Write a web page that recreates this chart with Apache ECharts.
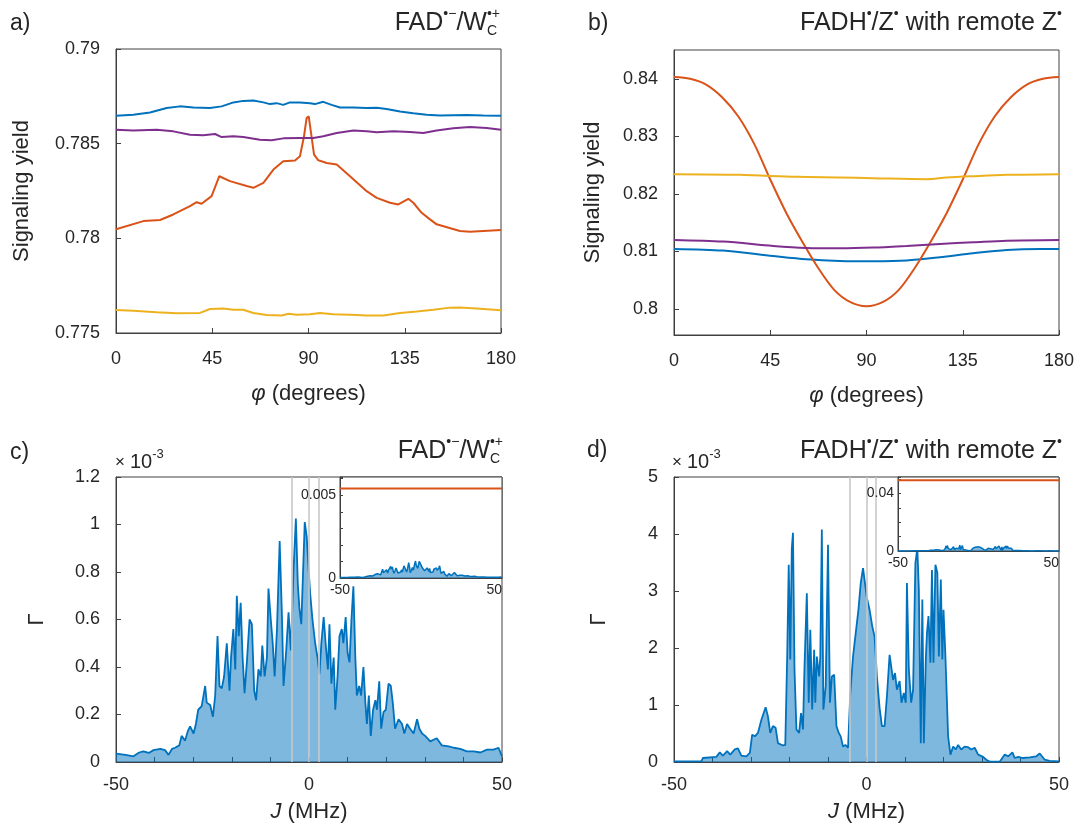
<!DOCTYPE html>
<html><head><meta charset="utf-8">
<script src="https://cdn.jsdelivr.net/npm/echarts@6/dist/echarts.min.js"></script>
<style>html,body{margin:0;padding:0;background:#fff}#c{width:1074px;height:828px}</style>
</head><body><div id="c"></div>
<script>
// ---------------- DATA ----------------
const phiTicks = [0, 45, 90, 135, 180];
// panel a: FAD/W  (phi in degrees, signaling yield)
const aBlue = [[0,0.78647],[8.1,0.78653],[15.9,0.78665],[23.7,0.78688],[29.9,0.78697],[36.2,0.78691],[43.9,0.78688],[49.4,0.78697],[54.9,0.78718],[59.5,0.78726],[64.2,0.78728],[68.9,0.78718],[72.0,0.78709],[75.1,0.78714],[78.2,0.78705],[81.3,0.78718],[86.0,0.78718],[90.7,0.78714],[93.0,0.78709],[96.9,0.78721],[100.8,0.78705],[104.7,0.78691],[111.0,0.78691],[117.2,0.78688],[121.9,0.78690],[126.5,0.78683],[132.8,0.78670],[139.0,0.78661],[145.2,0.78653],[151.5,0.78649],[163.9,0.78651],[171.7,0.78649],[180,0.78647]];
const aOrange = [[0,0.78048],[12.8,0.78091],[20.6,0.78097],[26.8,0.78126],[34.6,0.78170],[37.7,0.78191],[40.0,0.78183],[44.7,0.78223],[48.3,0.78328],[53.3,0.78302],[61.1,0.78276],[64.2,0.78267],[68.9,0.78293],[73.6,0.78363],[78.2,0.78407],[83.7,0.78411],[86.0,0.78433],[87.9,0.78539],[89.1,0.78635],[90.1,0.78644],[91.2,0.78556],[92.6,0.78442],[94.6,0.78412],[98.5,0.78398],[103.2,0.78390],[109.4,0.78328],[117.2,0.78249],[121.9,0.78214],[128.1,0.78188],[132.0,0.78179],[136.7,0.78209],[139.0,0.78188],[142.9,0.78135],[146.8,0.78100],[149.9,0.78074],[160.8,0.78039],[165.5,0.78035],[180,0.78044]];
const aYellow = [[0,0.77621],[8.1,0.77618],[19.0,0.77609],[28.4,0.77604],[39.3,0.77606],[43.9,0.77627],[50.2,0.77630],[54.9,0.77623],[59.5,0.77623],[64.2,0.77606],[70.4,0.77595],[77.5,0.77592],[80.6,0.77602],[84.5,0.77597],[90.7,0.77599],[95.4,0.77606],[101.6,0.77599],[109.4,0.77597],[117.2,0.77592],[125.0,0.77593],[132.8,0.77606],[140.6,0.77614],[148.4,0.77623],[156.1,0.77634],[160.8,0.77635],[168.6,0.77630],[180,0.77620]];
const aPurple = [[0,0.78574],[8.1,0.78570],[19.0,0.78574],[26.8,0.78565],[34.6,0.78547],[40.8,0.78544],[46.3,0.78551],[49.4,0.78535],[54.9,0.78539],[59.5,0.78535],[67.3,0.78521],[72.8,0.78518],[78.2,0.78528],[86.0,0.78530],[92.3,0.78530],[96.9,0.78539],[103.2,0.78556],[111.0,0.78570],[117.2,0.78565],[121.9,0.78560],[129.7,0.78565],[137.4,0.78561],[143.7,0.78556],[149.9,0.78570],[157.7,0.78581],[165.5,0.78588],[173.3,0.78583],[180,0.78574]];
// panel b: FADH/Z with remote Z
const bBlue = [[0,0.81045],[22.9,0.81016],[46.3,0.80923],[61.9,0.80866],[77.5,0.80837],[93.1,0.80831],[108.7,0.80843],[124.3,0.80900],[139.9,0.80970],[155.5,0.81027],[171.1,0.81045],[180,0.81045]];
const bOrange = [[0,0.8403],[7.5,0.8400],[15,0.8390],[22.5,0.8368],[30,0.8335],[37.5,0.8287],[45,0.8225],[52.5,0.8167],[60,0.8117],[67.5,0.8071],[75,0.8033],[82.5,0.8012],[90,0.8005],[97.5,0.8012],[105,0.8033],[112.5,0.8071],[120,0.8117],[127.5,0.8167],[135,0.8225],[142.5,0.8287],[150,0.8335],[157.5,0.8368],[165,0.8390],[172.5,0.8400],[180,0.8403]];
const bYellow = [[0,0.82343],[30.7,0.82332],[57.2,0.82297],[77.5,0.82286],[93.1,0.82274],[118.1,0.82257],[127.4,0.82286],[139.9,0.82309],[155.5,0.82332],[180,0.82343]];
const bPurple = [[0,0.81201],[22.9,0.81172],[46.3,0.81097],[61.9,0.81062],[77.5,0.81056],[93.1,0.81068],[108.7,0.81097],[124.3,0.81131],[139.9,0.81160],[155.5,0.81189],[180,0.81201]];
const bYTicks = [0.80, 0.81, 0.82, 0.83, 0.84];
// panel c: Gamma spectrum, FAD/W (units of 1e-3), J in MHz
const cSpec = [[-50,0.035],[-47.5,0.03],[-45.5,0.024],[-44,0.04],[-42.9,0.045],[-41.5,0.038],[-40.3,0.05],[-38.5,0.055],[-37.3,0.05],[-36.4,0.03],[-35.5,0.055],[-34.7,0.06],[-33.6,0.07],[-33.0,0.11],[-32.1,0.09],[-31.4,0.13],[-30.8,0.15],[-29.9,0.12],[-29.3,0.16],[-28.7,0.22],[-27.8,0.235],[-26.9,0.32],[-26.5,0.25],[-25.6,0.24],[-24.9,0.19],[-24.3,0.28],[-23.7,0.53],[-23.2,0.32],[-22.6,0.31],[-22.0,0.36],[-21.3,0.50],[-20.6,0.30],[-20.2,0.44],[-19.6,0.56],[-19.1,0.39],[-18.7,0.70],[-18.2,0.53],[-17.7,0.67],[-17.2,0.44],[-16.7,0.29],[-16.1,0.42],[-15.4,0.60],[-14.8,0.58],[-14.2,0.30],[-13.7,0.26],[-13.1,0.39],[-12.5,0.36],[-12.1,0.49],[-11.5,0.36],[-10.9,0.44],[-10.5,0.73],[-9.9,0.60],[-9.4,0.50],[-8.9,0.36],[-8.3,0.56],[-7.6,0.93],[-7.0,0.61],[-6.6,0.32],[-5.9,0.47],[-5.3,0.63],[-4.7,0.47],[-4.0,0.81],[-3.4,1.025],[-2.9,0.75],[-2.5,0.65],[-2.0,0.58],[-1.6,0.77],[-1.1,1.01],[-0.6,0.95],[-0.1,0.81],[0.3,0.71],[0.9,0.60],[1.6,0.50],[2.2,0.44],[2.7,0.37],[3.2,0.50],[3.8,0.61],[4.3,0.50],[4.9,0.39],[5.3,0.58],[5.8,0.33],[6.4,0.44],[6.8,0.22],[7.4,0.36],[7.9,0.53],[8.5,0.56],[8.9,0.50],[9.5,0.61],[10.0,0.46],[10.5,0.42],[11.0,0.60],[11.5,0.74],[12.0,0.44],[12.4,0.28],[13.0,0.32],[13.5,0.28],[14.1,0.40],[14.6,0.25],[15.0,0.16],[15.5,0.28],[16.0,0.11],[16.6,0.22],[17.2,0.26],[17.6,0.22],[18.2,0.34],[18.7,0.14],[19.3,0.21],[19.9,0.22],[20.6,0.33],[21.2,0.32],[21.7,0.25],[22.3,0.14],[23.2,0.18],[24.1,0.16],[24.7,0.12],[25.4,0.16],[26.2,0.14],[27.1,0.12],[28.0,0.18],[28.6,0.14],[29.3,0.12],[30.1,0.11],[31.4,0.087],[33.1,0.10],[34.4,0.07],[36.2,0.066],[37.5,0.06],[39.2,0.055],[40.9,0.045],[42.7,0.045],[44.4,0.04],[46.1,0.052],[47.8,0.052],[49.1,0.06],[50,0.024]];
// panel d: Gamma spectrum, FADH/Z (units of 1e-3)
const dSpec = [[-50,0.01],[-42.9,0.01],[-42.5,0.07],[-39.0,0.09],[-38.1,0.17],[-37.3,0.11],[-36.2,0.19],[-35.4,0.13],[-34.2,0.22],[-33.4,0.24],[-32.5,0.11],[-31.2,0.10],[-30.3,0.16],[-29.7,0.48],[-29.0,0.45],[-28.2,0.51],[-27.3,0.74],[-26.2,0.96],[-25.6,0.80],[-25.0,0.51],[-24.3,0.63],[-23.6,0.60],[-23.0,0.33],[-21.7,0.29],[-21.1,0.30],[-20.6,1.85],[-20.2,3.46],[-19.8,1.80],[-19.4,3.75],[-19.1,4.02],[-18.7,1.62],[-18.2,0.57],[-17.5,0.51],[-17.0,0.86],[-16.5,0.57],[-16.1,1.68],[-15.5,2.96],[-15.0,1.04],[-14.6,2.32],[-14.1,0.92],[-13.6,1.97],[-13.3,1.04],[-12.9,1.85],[-12.3,1.50],[-12.0,1.85],[-11.6,4.08],[-11.2,0.92],[-10.6,1.33],[-10.0,3.81],[-9.5,1.04],[-9.0,1.50],[-8.4,1.53],[-7.8,0.63],[-7.2,0.51],[-6.7,0.45],[-6.1,0.27],[-5.5,0.30],[-4.8,0.25],[-4.2,1.21],[-3.5,1.85],[-2.8,2.26],[-2.1,2.67],[-1.5,3.14],[-0.9,3.40],[-0.5,3.37],[0.1,2.88],[0.8,2.67],[1.5,2.38],[2.1,2.20],[2.7,1.50],[3.4,0.95],[4.0,0.63],[4.7,0.63],[5.3,1.15],[6.0,1.88],[6.5,1.85],[6.9,1.44],[7.4,1.56],[7.9,1.27],[8.6,1.42],[9.1,1.04],[9.7,1.21],[10.2,1.04],[10.5,3.14],[11.0,1.62],[11.6,1.04],[12.1,1.27],[12.7,3.49],[13.2,3.75],[13.6,3.02],[14.1,0.33],[14.5,2.85],[14.9,0.33],[15.4,1.80],[15.7,2.26],[16.1,2.56],[16.6,1.74],[17.0,3.37],[17.4,1.74],[17.9,3.46],[18.4,3.32],[18.8,1.85],[19.3,3.20],[19.7,1.80],[20.0,2.67],[20.5,1.85],[21.2,0.45],[21.8,0.13],[22.5,0.27],[23.2,0.22],[23.8,0.30],[24.6,0.22],[25.5,0.27],[26.4,0.26],[27.2,0.22],[28.1,0.25],[29.0,0.13],[30.3,0.09],[31.1,0.04],[32.0,0.006],[34.6,0.006],[35.9,0.13],[36.8,0.10],[37.9,0.17],[38.5,0.07],[39.4,0.09],[40.6,0.07],[42.4,0.08],[44.1,0.10],[45.0,0.15],[46.3,0.04],[47.6,0.02],[50,0.01]];
const jMarkers = [-4.4, 0, 2.4];     // grey vertical lines (MHz)
const jLabels = [-50, 0, 50];
const specScale = 1e-3;             // main-panel units (x10^-3)
const cInsetRef = 0.0054;           // orange reference level, inset c
const dInsetRef = 0.0492;           // orange reference level, inset d

// ---------------- STYLE ----------------
const FONT = "'Liberation Sans', Arial, Helvetica, sans-serif";
const TXT = '#262626', AX = '#404040';
const BLUE = '#0072BD', ORANGE = '#D95319', YELLOW = '#EDB120', PURPLE = '#7E2F8E', GRAY = '#C8C8C8';

const ctx = document.createElement('canvas').getContext('2d');
function tw(t, s) { ctx.font = s + 'px ' + FONT; return ctx.measureText(t).width; }
function txt(t, x, y, s, extra) {
  return Object.assign({ type: 'text', x: x, y: y, z: 50,
    style: { text: t, fontSize: s, fontFamily: FONT, fill: TXT,
      align: 'left', textAlign: 'left', verticalAlign: 'middle', textVerticalAlign: 'middle' } }, extra || {});
}
function layout(segs, x0, cy, anchorRight) {
  let widths = [], total = 0, pend = 0;
  segs.forEach(sg => { const w = tw(sg.t, sg.s) + (sg.gap || 0); widths.push(w);
    if (sg.stack) { pend = w; } else { total += Math.max(w, pend); pend = 0; } });
  let x = anchorRight ? x0 - total : x0;
  const out = []; pend = 0;
  segs.forEach((sg, i) => {
    out.push(txt(sg.t, x, cy + (sg.dy || 0), sg.s));
    if (sg.stack) { pend = widths[i]; } else { x += Math.max(widths[i], pend); pend = 0; }
  });
  return out;
}
const titleFAD = [{t:'FAD',s:25},{t:'•−',s:14,dy:-9},{t:'/W',s:25},{t:'•+',s:14,dy:-9,stack:true},{t:'C',s:14,dy:8}];
const titleFADH = [{t:'FADH',s:25},{t:'•',s:14,dy:-9},{t:'/Z',s:25},{t:'•',s:14,dy:-9},{t:' with remote Z',s:25},{t:'•',s:14,dy:-9}];
const expo = [{t:'×',s:17,gap:5},{t:'10',s:20},{t:'-3',s:13,dy:-8}];

const graphic = [].concat(
  [txt('a)', 10, 24, 23), txt('b)', 588, 24, 23), txt('c)', 10, 453, 23), txt('d)', 587, 451, 23)],
  layout(titleFAD, 500, 23.5, true), layout(titleFADH, 1062, 23.5, true),
  layout(titleFAD, 503, 451.5, true), layout(titleFADH, 1062, 451.5, true),
  layout(expo, 115, 462, false), layout(expo, 672, 462, false)
);

function gridBox(l, t, w, h, extra) {
  return Object.assign({ left: l, top: t, width: w, height: h, containLabel: false, outerBoundsMode: 'none',
    show: true, borderColor: AX, borderWidth: 1, backgroundColor: 'transparent' }, extra || {});
}
function ax(o) {
  const base = {
    type: 'value', axisLine: { show: true, onZero: false, lineStyle: { color: AX, width: 1 } },
    axisTick: { show: true, inside: true, length: 5, lineStyle: { color: AX, width: 1 } },
    splitLine: { show: false },
    axisLabel: { color: TXT, fontSize: 18, fontFamily: FONT },
    nameTextStyle: { color: TXT, fontSize: 22, fontFamily: FONT,
      rich: { i: { fontStyle: 'italic', fontSize: 22, fontFamily: FONT, color: TXT } } }
  };
  for (const k in o) {
    if (base[k] && typeof base[k] === 'object' && !Array.isArray(base[k]) && typeof o[k] === 'object') base[k] = Object.assign({}, base[k], o[k]);
    else base[k] = o[k];
  }
  return base;
}
const onlyJ = v => (jLabels.indexOf(Math.round(v)) >= 0 && Math.abs(v - Math.round(v)) < 1e-6) ? String(Math.round(v)) : '';

const grids = [
  gridBox(116, 49, 385, 284), gridBox(674, 50, 385, 285),
  gridBox(116, 477, 386, 285), gridBox(674, 477, 385, 285),
  gridBox(340, 477, 162, 101, { z: 10, backgroundColor: '#fff' }),
  gridBox(898, 477, 161, 74, { z: 10, backgroundColor: '#fff' })
];
const xAxes = [
  ax({ gridIndex: 0, min: 0, max: 180, interval: 45, axisLabel: { margin: 17 }, name: '{i|φ} (degrees)', nameLocation: 'middle', nameGap: 50 }),
  ax({ gridIndex: 1, min: 0, max: 180, interval: 45, axisLabel: { margin: 17 }, name: '{i|φ} (degrees)', nameLocation: 'middle', nameGap: 50 }),
  ax({ gridIndex: 2, min: -50, max: 50, interval: 10, axisLabel: { margin: 14, formatter: onlyJ }, name: '{i|J} (MHz)', nameLocation: 'middle', nameGap: 39 }),
  ax({ gridIndex: 3, min: -50, max: 50, interval: 10, axisLabel: { margin: 14, formatter: onlyJ }, name: '{i|J} (MHz)', nameLocation: 'middle', nameGap: 39 }),
  ax({ gridIndex: 4, min: -50, max: 50, interval: 100, z: 11, axisTick: { show: false }, axisLabel: { fontSize: 14, margin: 5, alignMaxLabel: 'right' } }),
  ax({ gridIndex: 5, min: -50, max: 50, interval: 100, z: 11, axisTick: { show: false }, axisLabel: { fontSize: 14, margin: 5, alignMaxLabel: 'right' } })
];
const yAxes = [
  ax({ gridIndex: 0, min: 0.775, max: 0.79, interval: 0.005, axisLabel: { margin: 16, formatter: v => String(+v.toFixed(3)) }, name: 'Signaling yield', nameLocation: 'middle', nameGap: 83 }),
  ax({ gridIndex: 1, min: 0.7955, max: 0.845, axisLabel: { margin: 16, customValues: bYTicks, formatter: v => String(+v.toFixed(2)) }, axisTick: { customValues: bYTicks }, name: 'Signaling yield', nameLocation: 'middle', nameGap: 70 }),
  ax({ gridIndex: 2, min: 0, max: 1.2, interval: 0.2, axisLabel: { margin: 16, formatter: v => String(+v.toFixed(1)) }, name: 'Γ', nameLocation: 'middle', nameGap: 68 }),
  ax({ gridIndex: 3, min: 0, max: 5, interval: 1, axisLabel: { margin: 16 }, name: 'Γ', nameLocation: 'middle', nameGap: 64 }),
  ax({ gridIndex: 4, min: 0, max: 0.0061, interval: 0.001, z: 11, axisTick: { length: 3 }, axisLabel: { fontSize: 14, margin: 4, formatter: v => (Math.abs(v) < 1e-9 ? '0' : (Math.abs(v - 0.005) < 1e-9 ? '0.005' : '')) } }),
  ax({ gridIndex: 5, min: 0, max: 0.0515, interval: 0.01, z: 11, axisTick: { length: 3 }, axisLabel: { fontSize: 14, margin: 4, formatter: v => (Math.abs(v) < 1e-9 ? '0' : (Math.abs(v - 0.04) < 1e-9 ? '0.04' : '')) } })
];

function line(idx, data, color, extra) {
  return Object.assign({ type: 'line', xAxisIndex: idx, yAxisIndex: idx, data: data, showSymbol: false, symbol: 'none',
    lineStyle: { color: color, width: 2 }, itemStyle: { color: color }, z: 3, silent: true }, extra || {});
}
function spec(idx, data, extra) {
  return line(idx, data, BLUE, Object.assign({ lineStyle: { color: BLUE, width: 1.8 },
    areaStyle: { color: BLUE, opacity: 0.5 } }, extra || {}));
}
const marks = { silent: true, symbol: ['none', 'none'], label: { show: false },
  lineStyle: { color: GRAY, width: 1.6, type: 'solid' }, data: jMarkers.map(v => ({ xAxis: v })) };
const scaled = arr => arr.map(p => [p[0], p[1] * specScale]);

const series = [
  line(0, aBlue, BLUE), line(0, aOrange, ORANGE), line(0, aYellow, YELLOW), line(0, aPurple, PURPLE),
  line(1, bBlue, BLUE, { smooth: 0.3 }), line(1, bOrange, ORANGE, { smooth: 0.3 }), line(1, bYellow, YELLOW, { smooth: 0.3 }), line(1, bPurple, PURPLE, { smooth: 0.3 }),
  spec(2, cSpec, { markLine: marks }),
  spec(3, dSpec, { markLine: marks }),
  spec(4, scaled(cSpec), { z: 12, lineStyle: { color: BLUE, width: 1.5 } }),
  line(4, [[-50, cInsetRef], [50, cInsetRef]], ORANGE, { z: 13 }),
  spec(5, scaled(dSpec), { z: 12, lineStyle: { color: BLUE, width: 1.5 } }),
  line(5, [[-50, dInsetRef], [50, dInsetRef]], ORANGE, { z: 13 })
];

const chart = echarts.init(document.getElementById('c'), null, { renderer: 'canvas' });
chart.setOption({ backgroundColor: '#fff', animation: false, grid: grids, xAxis: xAxes, yAxis: yAxes, series: series, graphic: graphic });
</script>
</body></html>
